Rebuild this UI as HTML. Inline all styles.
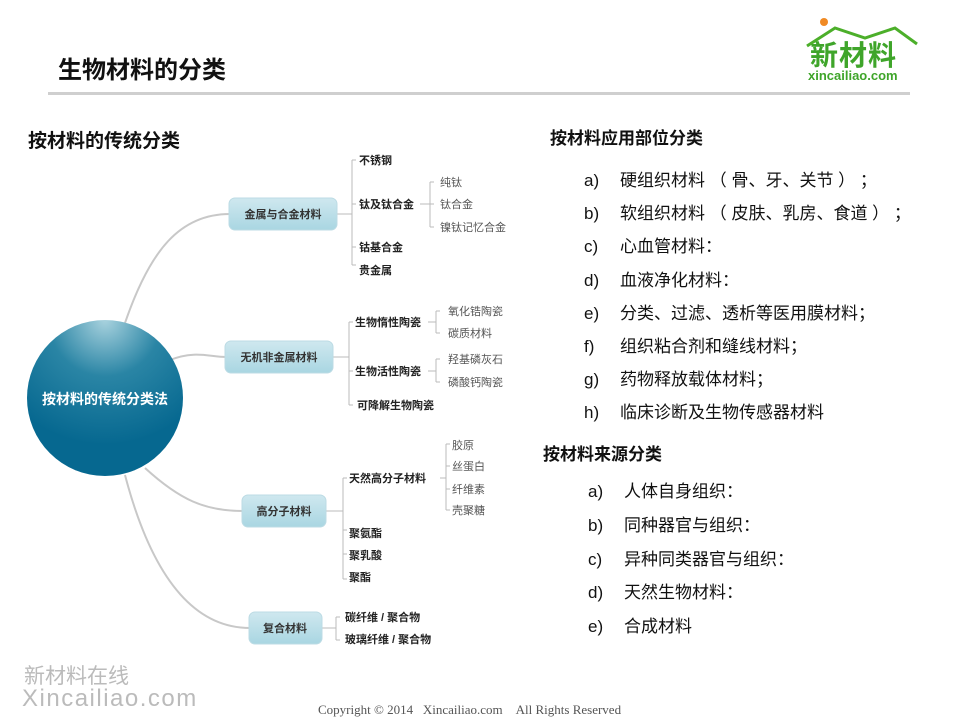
<!DOCTYPE html>
<html><head><meta charset="utf-8"><style>
body{margin:0;width:960px;height:720px;background:#fff;position:relative;overflow:hidden;font-family:"Liberation Sans","Noto Sans CJK SC",sans-serif;}
.a{position:absolute;white-space:nowrap;}
.l span{display:inline-block;width:36px;}
</style></head><body>
<div class="a" style="left:58px;top:50px;font-size:24px;font-weight:bold;color:#111">生物材料的分类</div>
<div class="a" style="left:48px;top:92px;width:862px;height:3px;background:#cfcfcf"></div>
<div class="a" style="left:820px;top:18px;width:8px;height:8px;border-radius:50%;background:#f08a24"></div>
<svg class="a" style="left:805px;top:22px" width="115" height="30"><path d="M2 24 L30 6 L60 16 L90 6 L112 22" fill="none" stroke="#4caf2a" stroke-width="3"/></svg>
<div class="a" style="left:810px;top:34px;font-size:28px;font-weight:bold;color:#3fa52a;letter-spacing:1px">新材料</div>
<div class="a" style="left:808px;top:68px;font-size:13px;font-weight:bold;color:#3fa52a">xincailiao.com</div>
<div class="a" style="left:28px;top:126px;font-size:19px;font-weight:bold;color:#111">按材料的传统分类</div>
<svg class="a" style="left:0;top:0" width="560" height="720" font-family="Liberation Sans,Noto Sans CJK SC,sans-serif">
<defs><radialGradient id="g" cx="0.5" cy="0.0" r="0.8"><stop offset="0" stop-color="#a8d2de"/><stop offset="0.45" stop-color="#2a85a5"/><stop offset="1" stop-color="#066890"/></radialGradient>
<linearGradient id="b" x1="0" y1="0" x2="0" y2="1"><stop offset="0" stop-color="#cfe8ef"/><stop offset="1" stop-color="#a9d6e2"/></linearGradient></defs>
<g fill="none" stroke="#c8c8c8" stroke-width="2">
<path d="M125 323 C150 250 180 214 230 214"/>
<path d="M170 360 C195 350 210 357 226 357"/>
<path d="M145 468 C180 500 205 511 243 511"/>
<path d="M125 475 C150 570 190 628 250 628"/>
</g>
<g fill="none" stroke="#bbb" stroke-width="1">
<path d="M337 214 H352 M352 160 V265 M352 160h4 M352 204h4 M352 247h4 M352 265h4"/>
<path d="M420 204 h10 M430 182 V227 M430 182h4 M430 204h4 M430 227h4"/>
<path d="M333 357 H349 M349 322 V405 M349 322h4 M349 371h4 M349 405h4"/>
<path d="M428 322h8 M436 311 V333 M436 311h4 M436 333h4"/>
<path d="M428 371h8 M436 359 V382 M436 359h4 M436 382h4"/>
<path d="M326 511 H343 M343 478 V579 M343 478h4 M343 530h4 M343 554h4 M343 579h4"/>
<path d="M440 478h6 M446 444 V510 M446 444h4 M446 466h4 M446 489h4 M446 510h4"/>
<path d="M322 628 H336 M336 617 V640 M336 617h4 M336 640h4"/>
</g>
<circle cx="105" cy="398" r="78" fill="url(#g)"/>
<text x="105" y="404" text-anchor="middle" fill="#fff" font-size="14" font-weight="bold">按材料的传统分类法</text>
<g fill="url(#b)" stroke="#bcdbe4"><rect x="229" y="198" width="108" height="32" rx="6"/><rect x="225" y="341" width="108" height="32" rx="6"/><rect x="242" y="495" width="84" height="32" rx="6"/><rect x="249" y="612" width="73" height="32" rx="6"/></g>
<g font-size="11" font-weight="bold" fill="#333" text-anchor="middle"><text x="283" y="218">金属与合金材料</text><text x="279" y="361">无机非金属材料</text><text x="284" y="515">高分子材料</text><text x="285" y="632">复合材料</text></g>
<g font-size="11" font-weight="bold" fill="#222"><text x="359" y="164">不锈钢</text><text x="359" y="208">钛及钛合金</text><text x="359" y="251">钴基合金</text><text x="359" y="274">贵金属</text>
<text x="355" y="326">生物惰性陶瓷</text><text x="355" y="375">生物活性陶瓷</text><text x="357" y="409">可降解生物陶瓷</text>
<text x="349" y="482">天然高分子材料</text><text x="349" y="537">聚氨酯</text><text x="349" y="559">聚乳酸</text><text x="349" y="581">聚酯</text>
<text x="345" y="621">碳纤维 / 聚合物</text><text x="345" y="643">玻璃纤维 / 聚合物</text></g>
<g font-size="11" fill="#555"><text x="440" y="186">纯钛</text><text x="440" y="208">钛合金</text><text x="440" y="231">镍钛记忆合金</text>
<text x="448" y="315">氧化锆陶瓷</text><text x="448" y="337">碳质材料</text><text x="448" y="363">羟基磷灰石</text><text x="448" y="386">磷酸钙陶瓷</text>
<text x="452" y="449">胶原</text><text x="452" y="470">丝蛋白</text><text x="452" y="493">纤维素</text><text x="452" y="514">壳聚糖</text></g>
</svg>
<div class="a" style="left:550px;top:124px;font-size:17px;font-weight:bold;color:#111">按材料应用部位分类</div>
<div class="a l" style="left:584px;top:164px;font-size:17px;color:#111;line-height:33.2px">
<span>a)</span>硬组织材料 （ 骨、牙、关节 ） ；<br><span>b)</span>软组织材料 （ 皮肤、乳房、食道 ） ；<br><span>c)</span>心血管材料：<br><span>d)</span>血液净化材料：<br><span>e)</span>分类、过滤、透析等医用膜材料；<br><span>f)</span>组织粘合剂和缝线材料；<br><span>g)</span>药物释放载体材料；<br><span>h)</span>临床诊断及生物传感器材料</div>
<div class="a" style="left:543px;top:440px;font-size:17px;font-weight:bold;color:#111">按材料来源分类</div>
<div class="a l" style="left:588px;top:475px;font-size:17px;color:#111;line-height:33.8px">
<span>a)</span>人体自身组织：<br><span>b)</span>同种器官与组织：<br><span>c)</span>异种同类器官与组织：<br><span>d)</span>天然生物材料：<br><span>e)</span>合成材料</div>
<div class="a" style="left:24px;top:660px;font-size:21px;color:#bbb">新材料在线</div>
<div class="a" style="left:22px;top:685px;font-size:24px;color:#bbb;letter-spacing:1.5px">Xincailiao.com</div>
<div class="a" style="left:318px;top:702px;font-size:13px;color:#555;font-family:'Liberation Serif',serif">Copyright © 2014&nbsp;&nbsp;&nbsp;Xincailiao.com&nbsp;&nbsp;&nbsp;&nbsp;All Rights Reserved</div>
</body></html>
